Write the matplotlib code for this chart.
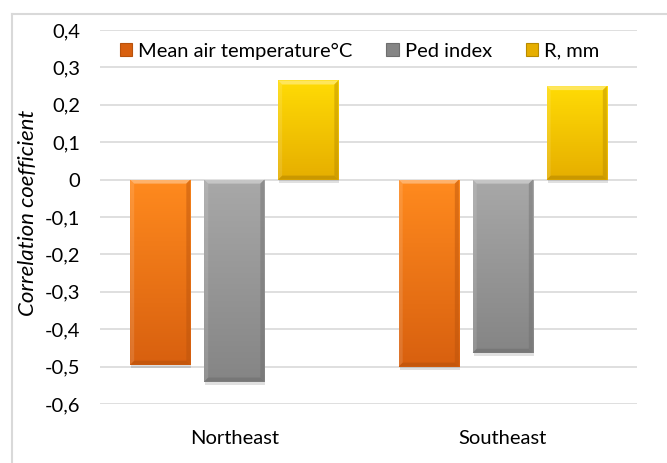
import numpy as np
import matplotlib
matplotlib.use('Agg')
import matplotlib.pyplot as plt
from matplotlib.colors import LinearSegmentedColormap
from matplotlib.patches import Polygon, Rectangle
from matplotlib.ticker import FuncFormatter

plt.rcParams['font.family'] = ['Lato', 'DejaVu Sans']

categories = ['Northeast', 'Southeast']
series_names = ['Mean air temperature°C', 'Ped index', 'R, mm']
temp_corr = [-0.495, -0.50]
ped_corr = [-0.54, -0.463]
rain_corr = [0.265, 0.25]
y_ticks = [-0.6, -0.5, -0.4, -0.3, -0.2, -0.1, 0.0, 0.1, 0.2, 0.3, 0.4]

# (top colour, bottom colour) per series, excel-ish bevel look
colours = [('#ff8a1e', '#d8600f'), ('#a8a8a8', '#858585'), ('#ffdb05', '#e6ae00')]
edge_dark = ['#b8520c', '#6e6e6e', '#b88a00']

W, H = 667, 463
fig = plt.figure(figsize=(W / 100, H / 100), dpi=100)
ax = fig.add_axes([100 / W, 1 - 404 / H, 537 / W, 374 / H])

# chart border (only top and left show in the crop)
fig.add_artist(plt.Line2D([12 / W, 12 / W], [0, 1 - 14 / H], color='#d9d9d9', lw=1.5))
fig.add_artist(plt.Line2D([12 / W, 1], [1 - 14 / H, 1 - 14 / H], color='#d9d9d9', lw=1.5))

ax.set_xlim(-0.5, 1.5)
ax.set_ylim(-0.6, 0.4)
ax.set_yticks(y_ticks)
ax.yaxis.set_major_formatter(FuncFormatter(lambda v, p: ('%.1f' % v).replace('.', ',') if abs(v) > 1e-9 else '0'))
ax.grid(axis='y', color='#d9d9d9', lw=1.2)
ax.set_axisbelow(True)
for s in ax.spines.values():
    s.set_visible(False)
ax.tick_params(axis='y', length=0, labelsize=14.5, pad=14)
ax.set_xticks(range(len(categories)))
ax.set_xticklabels(categories)
ax.tick_params(axis='x', length=0, labelsize=14.5, pad=19)
ax.set_ylabel('Correlation coefficient', fontsize=16, style='italic')
ax.yaxis.set_label_coords(-(100 - 38) / 537, 0.51)

x = np.arange(len(categories))
width = 0.224
step = 0.2756
px_x = 2.0 / 537   # data units per pixel
px_y = 1.0 / 374


def bevel_bar(x0, val, top_c, bot_c, dark):
    cmap = LinearSegmentedColormap.from_list('g', [top_c, bot_c])
    y0, y1 = min(0, val), max(0, val)
    # soft shadow
    ax.add_patch(Rectangle((x0 + px_x, y0 - 3 * px_y), width, y1 - y0, color='#000000', alpha=0.12, lw=0, zorder=2))
    rect = Rectangle((x0, y0), width, y1 - y0, lw=0, facecolor='none', zorder=3)
    ax.add_patch(rect)
    grad = np.linspace(0, 1, 100).reshape(-1, 1)
    im = ax.imshow(grad, cmap=cmap, aspect='auto', extent=(x0, x0 + width, y0, y1), origin='upper', zorder=3)
    im.set_clip_path(rect)
    bx, by = 4 * px_x, 4 * px_y
    x1 = x0 + width
    # bevel facets
    ax.add_patch(Polygon([(x0, y1), (x1, y1), (x1 - bx, y1 - by), (x0 + bx, y1 - by)], color='white', alpha=0.35, lw=0, zorder=4))
    ax.add_patch(Polygon([(x0, y0), (x1, y0), (x1 - bx, y0 + by), (x0 + bx, y0 + by)], color=dark, alpha=0.6, lw=0, zorder=4))
    ax.add_patch(Polygon([(x1, y0), (x1, y1), (x1 - bx, y1 - by), (x1 - bx, y0 + by)], color=dark, alpha=0.45, lw=0, zorder=4))
    ax.add_patch(Polygon([(x0, y0), (x0, y1), (x0 + bx, y1 - by), (x0 + bx, y0 + by)], color='white', alpha=0.12, lw=0, zorder=4))


all_vals = [temp_corr, ped_corr, rain_corr]
for i, vals in enumerate(all_vals):
    for j, v in enumerate(vals):
        bevel_bar(x[j] + (i - 1) * step - width / 2, v, colours[i][0], colours[i][1], edge_dark[i])

# legend
handles = [Rectangle((0, 0), 1, 1, facecolor=c[1], edgecolor=d, lw=0.8) for c, d in zip(colours, edge_dark)]
ax.legend(handles, series_names, loc='center', bbox_to_anchor=(0.5 - 9 / 537, 1 - 21 / 374), ncol=3, frameon=False,
          fontsize=14.5, handlelength=0.6, handleheight=0.6, handletextpad=0.3, columnspacing=1.7,
          borderpad=0, borderaxespad=0)

fig.savefig('out.png', dpi=100)
